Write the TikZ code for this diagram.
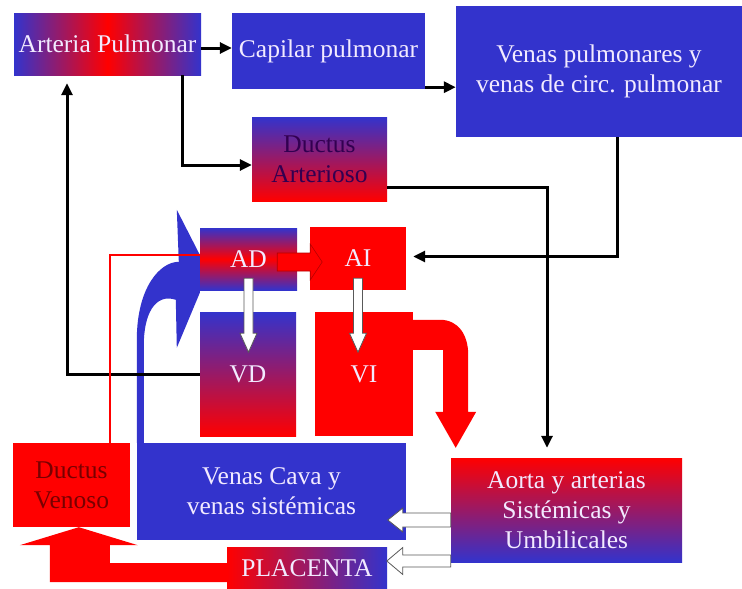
\documentclass[tikz,border=0pt]{standalone}
\usepackage{fontspec}
\setmainfont{Liberation Serif}
\usepackage{tikz}
\usetikzlibrary{arrows.meta,backgrounds}
\definecolor{pptblue}{RGB}{51,51,204}
\definecolor{pptred}{RGB}{255,0,0}
\definecolor{lighttxt}{RGB}{242,234,255}
\definecolor{darktxt}{RGB}{50,0,80}
\definecolor{darkred}{RGB}{120,0,0}

\begin{document}
\begin{tikzpicture}
[x=1pt, y=-1pt,
  font=\fontsize{25.5}{30}\selectfont,
  box/.style={inner sep=0pt, align=center, text=lighttxt},
  conn/.style={draw=black, line width=3pt, -{Triangle[length=12pt,width=11pt]}},
  hollow/.style={fill=white, draw=black!65, line width=0.8pt},
  redblock/.style={fill=pptred, draw=red!70!black, line width=0.6pt}]
  \useasboundingbox (0,0) rectangle (742,589);
  % pulmonary side
  \node[box, minimum width=187, minimum height=62, left color=pptblue, right color=pptblue, middle color=pptred] (ap) at (107.5,44) {Arteria Pulmonar};
  \node[box, minimum width=193, minimum height=76, fill=pptblue] (cap) at (328.5,51) {Capilar pulmonar};
  \node[box, minimum width=286, minimum height=131, fill=pptblue] (vp) at (599,71.5) {Venas pulmonares y\\venas de circ. pulmonar};
  \node[box, minimum width=135, minimum height=84, top color=pptblue, bottom color=pptred, text=darktxt] (da) at (319.5,159) {Ductus\\Arterioso};
  % heart
  \node[box, minimum width=97, minimum height=62, top color=pptblue, bottom color=pptblue, middle color=pptred] (ad) at (248.5,259) {AD};
  \node[box, minimum width=96, minimum height=63, fill=pptred] (ai) at (358,258.5) {AI};
  \node[box, minimum width=96, minimum height=124, top color=pptblue, bottom color=pptred] (vd) at (248,374) {VD};
  \node[box, minimum width=98, minimum height=124, fill=pptred] (vi) at (364,374) {VI};
  % systemic side
  \node[box, minimum width=269, minimum height=97, fill=pptblue] (vc) at (271.5,491.5) {Venas Cava y\\venas sistémicas};
  \node[box, minimum width=231, minimum height=104, top color=pptred, bottom color=pptblue] (ao) at (566.5,510) {Aorta y arterias\\Sistémicas y\\Umbilicales};
  \node[box, minimum width=117, minimum height=84, fill=pptred, text=darkred] (dv) at (71.5,485) {Ductus\\Venoso};
  \node[box, minimum width=160, minimum height=42, left color=pptred, right color=pptblue] (pl) at (307,568) {PLACENTA};

  \begin{pgfonlayer}{background}
    \begin{scope}[shift={(vc.north west)}]
      \fill[pptblue] (0,0) -- (0,-103) .. controls (0,-155) and (23,-181) .. (42,-181)
        -- (40,-233) -- (63,-188) -- (63,-150) -- (40,-95)
        -- (39,-143) .. controls (18,-150) and (7,-128) .. (7,-98) -- (7,0) -- cycle;
    \end{scope}
  \end{pgfonlayer}

  \draw[conn] ([yshift=-4pt]ap.east) -- ([yshift=-4pt]ap.east -| cap.west);
  \draw[conn] ([yshift=2pt]cap.south east) -- ([yshift=2pt]cap.south east -| vp.west);
  \draw[conn] ([xshift=-19pt]ap.south east) |- ([yshift=-6pt]da.west);
  \draw[conn, shorten >=8pt] (vd.west) -| ([xshift=-40.5pt]ap.south);
  \draw[conn, shorten >=7pt] ([xshift=18pt]vp.south) |- ([yshift=2pt]ai.east);
  \draw[conn, shorten >=10pt] ([yshift=-28pt]da.east) -| ([xshift=-19.5pt]ao.north);
  \draw[pptred, line width=2.5pt] ([xshift=-20pt]dv.north east) |- ([yshift=4pt]ad.west);

  % block arrows
  \filldraw[redblock] ([xshift=-20pt,yshift=-3pt]ad.east) ++(0,-9) -- ++(33,0) -- ++(0,-9)
    -- ++(12,18) -- ++(-12,18) -- ++(0,-9) -- ++(-33,0) -- cycle;
  \filldraw[hollow] ([yshift=12pt]ad.south) ++(-4.5,0) -- ++(0,55) -- ++(-4,0)
    -- ++(8.5,19) -- ++(8.5,-19) -- ++(-4,0) -- ++(0,-55) -- cycle;
  \filldraw[hollow] ([yshift=12pt]ai.south) ++(-4.5,0) -- ++(0,55) -- ++(-4,0)
    -- ++(8.5,19) -- ++(8.5,-19) -- ++(-4,0) -- ++(0,-55) -- cycle;
  \filldraw[hollow] ([yshift=-10pt]ao.west) ++(0,-7) -- ++(-48,0) -- ++(0,-5)
    -- ++(-15,12) -- ++(15,12) -- ++(0,-5) -- ++(48,0) -- cycle;
  \filldraw[hollow] ([yshift=-51pt]ao.west) ++(0,-6) -- ++(-48,0) -- ++(0,-7.5)
    -- ++(-16,13.5) -- ++(16,13.5) -- ++(0,-7.5) -- ++(48,0) -- cycle;
  \begin{scope}[shift={(vi.north east)}]
    \fill[pptred] (0,8) -- (27,8) .. controls (45,8) and (55,23) .. (55,43) -- (55,100)
      -- (63,100) -- (42.5,136) -- (22,100) -- (30,100) -- (30,38) -- (0,38) -- cycle;
  \end{scope}
  \begin{scope}[shift={(pl.south west)}]
    \fill[pptred] (0,-26) -- (-117,-26) -- (-117,-44) -- (-89,-44) -- (-148,-62)
      -- (-207,-44) -- (-177,-44) -- (-177,-7) -- (0,-7) -- cycle;
  \end{scope}
\end{tikzpicture}
\end{document}
